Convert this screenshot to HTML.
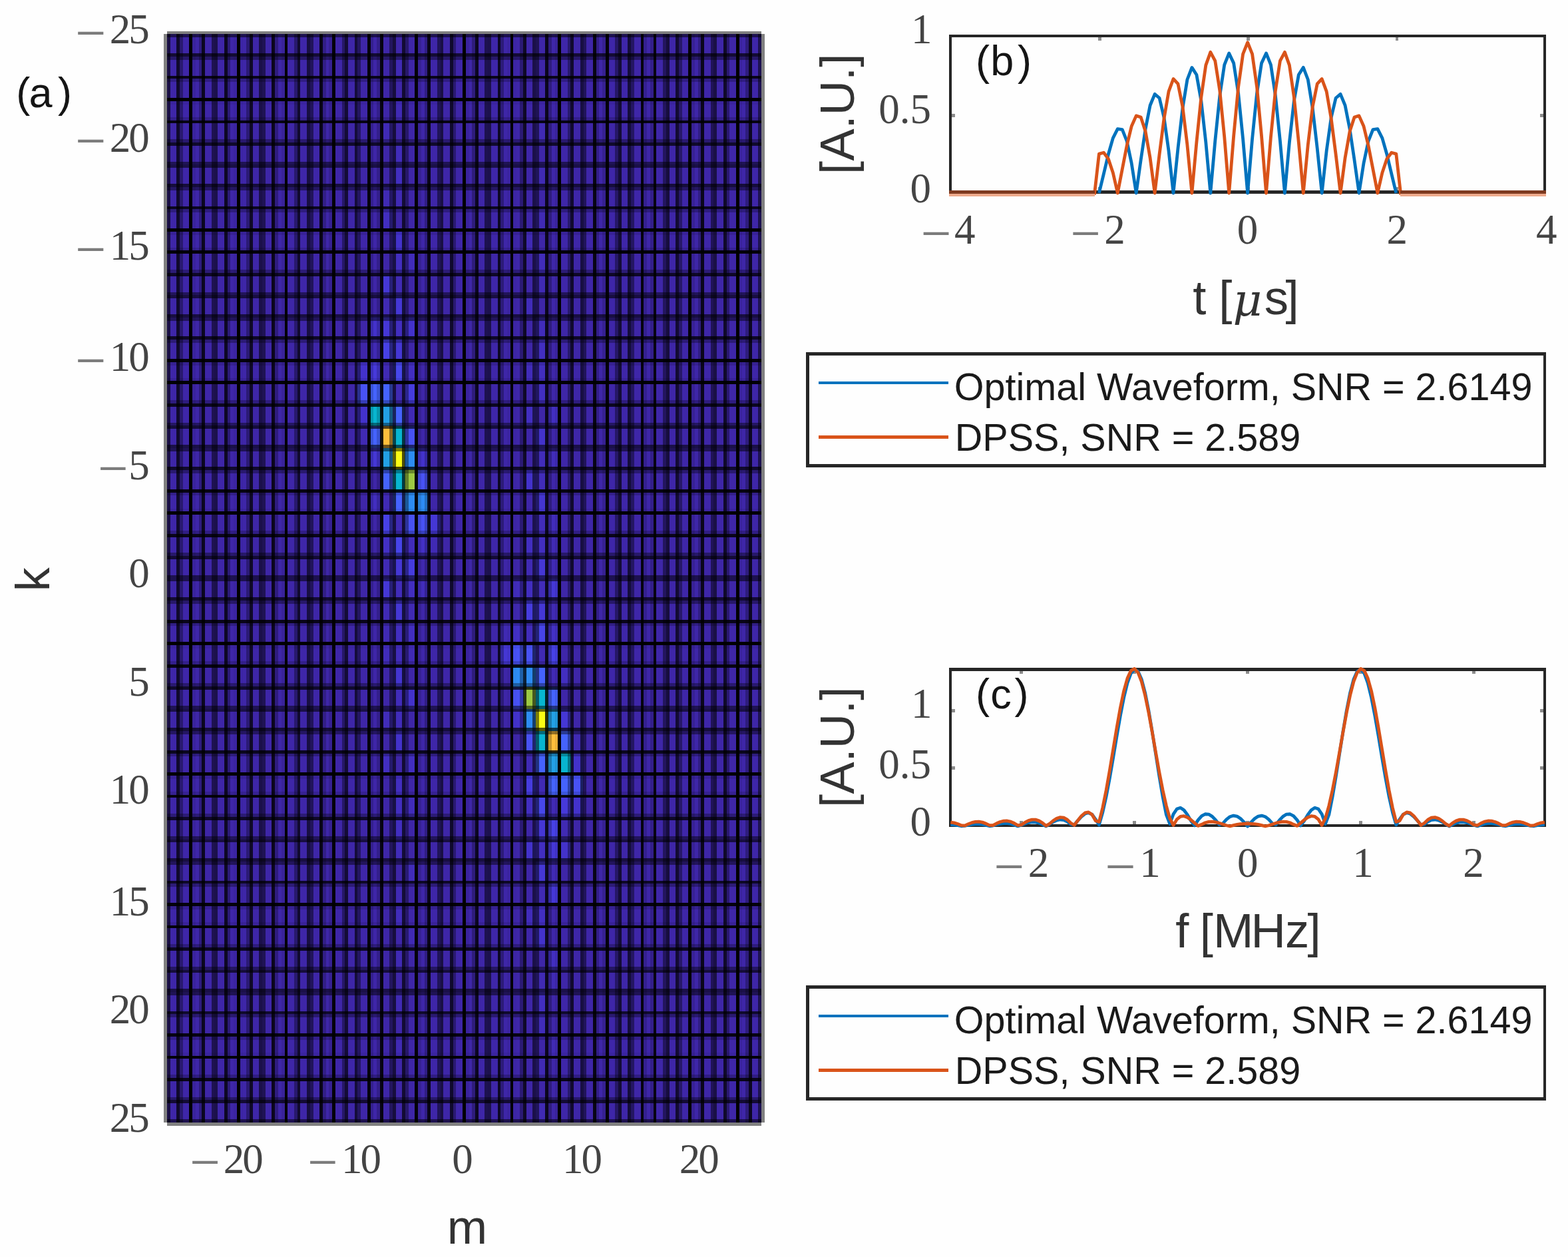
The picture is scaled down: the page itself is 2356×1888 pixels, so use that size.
<!DOCTYPE html>
<html lang="en"><head><meta charset="utf-8"><title>Figure</title>
<style>html,body{margin:0;padding:0;background:#fff}svg{display:block}.tk{font-family:"Liberation Serif","DejaVu Serif",serif;font-size:63px;fill:#444444}.lb{font-family:"Liberation Sans","DejaVu Sans",sans-serif;font-size:72.5px;fill:#333}.pl{font-family:"Liberation Sans","DejaVu Sans",sans-serif;font-size:63px;fill:#151515}.lg{font-family:"Liberation Sans","DejaVu Sans",sans-serif;font-size:57.5px;fill:#1a1a1a}</style></head><body>
<svg width="2356" height="1888" viewBox="0 0 2356 1888">
<rect width="2356" height="1888" fill="#fefefe"/>
<g shape-rendering="crispEdges">
<rect x="250.78" y="51.48" width="893.3" height="1634.42" fill="#3e26a8"/>
<rect x="536.84" y="541.8" width="17.86" height="32.69" fill="#4332cb"/>
<rect x="536.84" y="574.49" width="17.86" height="32.69" fill="#4852f4"/>
<rect x="536.84" y="607.18" width="17.86" height="32.69" fill="#4332cb"/>
<rect x="536.84" y="639.87" width="17.86" height="32.69" fill="#402ab4"/>
<rect x="554.7" y="476.43" width="17.86" height="32.69" fill="#4332cb"/>
<rect x="554.7" y="509.12" width="17.86" height="32.69" fill="#402ab4"/>
<rect x="554.7" y="541.8" width="17.86" height="32.69" fill="#4639da"/>
<rect x="554.7" y="574.49" width="17.86" height="32.69" fill="#4563fd"/>
<rect x="554.7" y="607.18" width="17.86" height="32.69" fill="#08b5d0"/>
<rect x="554.7" y="639.87" width="17.86" height="32.69" fill="#4563fd"/>
<rect x="554.7" y="672.56" width="17.86" height="32.69" fill="#4537d5"/>
<rect x="554.7" y="737.93" width="17.86" height="32.69" fill="#422ec0"/>
<rect x="572.57" y="182.23" width="17.86" height="32.69" fill="#402ab4"/>
<rect x="572.57" y="280.3" width="17.86" height="32.69" fill="#402ab4"/>
<rect x="572.57" y="312.99" width="17.86" height="32.69" fill="#422ec0"/>
<rect x="572.57" y="411.05" width="17.86" height="32.69" fill="#4537d5"/>
<rect x="572.57" y="443.74" width="17.86" height="32.69" fill="#402ab4"/>
<rect x="572.57" y="476.43" width="17.86" height="32.69" fill="#4537d5"/>
<rect x="572.57" y="509.12" width="17.86" height="32.69" fill="#4741e5"/>
<rect x="572.57" y="541.8" width="17.86" height="32.69" fill="#402ab4"/>
<rect x="572.57" y="574.49" width="17.86" height="32.69" fill="#4563fd"/>
<rect x="572.57" y="607.18" width="17.86" height="32.69" fill="#23a0e5"/>
<rect x="572.57" y="639.87" width="17.86" height="32.69" fill="#febe3c"/>
<rect x="572.57" y="672.56" width="17.86" height="32.69" fill="#23a0e5"/>
<rect x="572.57" y="705.25" width="17.86" height="32.69" fill="#4563fd"/>
<rect x="572.57" y="737.93" width="17.86" height="32.69" fill="#402ab4"/>
<rect x="572.57" y="770.62" width="17.86" height="32.69" fill="#4741e5"/>
<rect x="572.57" y="803.31" width="17.86" height="32.69" fill="#4330c5"/>
<rect x="572.57" y="836" width="17.86" height="32.69" fill="#402ab4"/>
<rect x="572.57" y="868.69" width="17.86" height="32.69" fill="#4537d5"/>
<rect x="572.57" y="901.38" width="17.86" height="32.69" fill="#402ab4"/>
<rect x="572.57" y="934.06" width="17.86" height="32.69" fill="#402ab4"/>
<rect x="572.57" y="966.75" width="17.86" height="32.69" fill="#412cba"/>
<rect x="572.57" y="1064.82" width="17.86" height="32.69" fill="#412cba"/>
<rect x="572.57" y="1130.19" width="17.86" height="32.69" fill="#422ec0"/>
<rect x="590.43" y="84.17" width="17.86" height="32.69" fill="#402ab4"/>
<rect x="590.43" y="149.54" width="17.86" height="32.69" fill="#402ab4"/>
<rect x="590.43" y="214.92" width="17.86" height="32.69" fill="#412cba"/>
<rect x="590.43" y="247.61" width="17.86" height="32.69" fill="#422ec0"/>
<rect x="590.43" y="280.3" width="17.86" height="32.69" fill="#402ab4"/>
<rect x="590.43" y="345.67" width="17.86" height="32.69" fill="#4332cb"/>
<rect x="590.43" y="378.36" width="17.86" height="32.69" fill="#422ec0"/>
<rect x="590.43" y="411.05" width="17.86" height="32.69" fill="#402ab4"/>
<rect x="590.43" y="443.74" width="17.86" height="32.69" fill="#4537d5"/>
<rect x="590.43" y="476.43" width="17.86" height="32.69" fill="#422ec0"/>
<rect x="590.43" y="509.12" width="17.86" height="32.69" fill="#4537d5"/>
<rect x="590.43" y="541.8" width="17.86" height="32.69" fill="#4747eb"/>
<rect x="590.43" y="574.49" width="17.86" height="32.69" fill="#402ab4"/>
<rect x="590.43" y="607.18" width="17.86" height="32.69" fill="#4563fd"/>
<rect x="590.43" y="639.87" width="17.86" height="32.69" fill="#08b5d0"/>
<rect x="590.43" y="672.56" width="17.86" height="32.69" fill="#f9fb15"/>
<rect x="590.43" y="705.25" width="17.86" height="32.69" fill="#08b5d0"/>
<rect x="590.43" y="737.93" width="17.86" height="32.69" fill="#4563fd"/>
<rect x="590.43" y="770.62" width="17.86" height="32.69" fill="#402ab4"/>
<rect x="590.43" y="803.31" width="17.86" height="32.69" fill="#4744e8"/>
<rect x="590.43" y="836" width="17.86" height="32.69" fill="#4537d5"/>
<rect x="590.43" y="868.69" width="17.86" height="32.69" fill="#412cba"/>
<rect x="590.43" y="901.38" width="17.86" height="32.69" fill="#4537d5"/>
<rect x="590.43" y="934.06" width="17.86" height="32.69" fill="#422ec0"/>
<rect x="590.43" y="966.75" width="17.86" height="32.69" fill="#412cba"/>
<rect x="590.43" y="999.44" width="17.86" height="32.69" fill="#4435d0"/>
<rect x="590.43" y="1032.13" width="17.86" height="32.69" fill="#412cba"/>
<rect x="590.43" y="1064.82" width="17.86" height="32.69" fill="#412cba"/>
<rect x="590.43" y="1097.51" width="17.86" height="32.69" fill="#4332cb"/>
<rect x="590.43" y="1162.88" width="17.86" height="32.69" fill="#422ec0"/>
<rect x="590.43" y="1195.57" width="17.86" height="32.69" fill="#422ec0"/>
<rect x="590.43" y="1228.26" width="17.86" height="32.69" fill="#422ec0"/>
<rect x="590.43" y="1260.95" width="17.86" height="32.69" fill="#412cba"/>
<rect x="590.43" y="1326.33" width="17.86" height="32.69" fill="#402ab4"/>
<rect x="590.43" y="1359.01" width="17.86" height="32.69" fill="#412cba"/>
<rect x="590.43" y="1424.39" width="17.86" height="32.69" fill="#402ab4"/>
<rect x="590.43" y="1489.77" width="17.86" height="32.69" fill="#402ab4"/>
<rect x="590.43" y="1555.14" width="17.86" height="32.69" fill="#402ab4"/>
<rect x="608.29" y="378.36" width="17.86" height="32.69" fill="#412cba"/>
<rect x="608.29" y="476.43" width="17.86" height="32.69" fill="#4332cb"/>
<rect x="608.29" y="541.8" width="17.86" height="32.69" fill="#422ec0"/>
<rect x="608.29" y="574.49" width="17.86" height="32.69" fill="#463cde"/>
<rect x="608.29" y="607.18" width="17.86" height="32.69" fill="#402ab4"/>
<rect x="608.29" y="639.87" width="17.86" height="32.69" fill="#4852f4"/>
<rect x="608.29" y="672.56" width="17.86" height="32.69" fill="#2d8cf3"/>
<rect x="608.29" y="705.25" width="17.86" height="32.69" fill="#9dc943"/>
<rect x="608.29" y="737.93" width="17.86" height="32.69" fill="#2d8cf3"/>
<rect x="608.29" y="770.62" width="17.86" height="32.69" fill="#4852f4"/>
<rect x="608.29" y="803.31" width="17.86" height="32.69" fill="#412cba"/>
<rect x="608.29" y="836" width="17.86" height="32.69" fill="#463cde"/>
<rect x="608.29" y="868.69" width="17.86" height="32.69" fill="#422ec0"/>
<rect x="608.29" y="901.38" width="17.86" height="32.69" fill="#402ab4"/>
<rect x="608.29" y="934.06" width="17.86" height="32.69" fill="#422ec0"/>
<rect x="608.29" y="966.75" width="17.86" height="32.69" fill="#402ab4"/>
<rect x="608.29" y="1032.13" width="17.86" height="32.69" fill="#4332cb"/>
<rect x="608.29" y="1130.19" width="17.86" height="32.69" fill="#422ec0"/>
<rect x="608.29" y="1195.57" width="17.86" height="32.69" fill="#412cba"/>
<rect x="608.29" y="1293.64" width="17.86" height="32.69" fill="#412cba"/>
<rect x="608.29" y="1391.7" width="17.86" height="32.69" fill="#402ab4"/>
<rect x="626.15" y="672.56" width="17.86" height="32.69" fill="#4332cb"/>
<rect x="626.15" y="705.25" width="17.86" height="32.69" fill="#4852f4"/>
<rect x="626.15" y="737.93" width="17.86" height="32.69" fill="#2d8cf3"/>
<rect x="626.15" y="770.62" width="17.86" height="32.69" fill="#4852f4"/>
<rect x="626.15" y="803.31" width="17.86" height="32.69" fill="#4330c5"/>
<rect x="626.15" y="836" width="17.86" height="32.69" fill="#3f28ae"/>
<rect x="626.15" y="868.69" width="17.86" height="32.69" fill="#412cba"/>
<rect x="644.01" y="770.62" width="17.86" height="32.69" fill="#4537d5"/>
<rect x="644.01" y="803.31" width="17.86" height="32.69" fill="#402ab4"/>
<rect x="751.18" y="934.06" width="17.86" height="32.69" fill="#402ab4"/>
<rect x="751.18" y="966.75" width="17.86" height="32.69" fill="#4537d5"/>
<rect x="769.04" y="868.69" width="17.86" height="32.69" fill="#412cba"/>
<rect x="769.04" y="901.38" width="17.86" height="32.69" fill="#3f28ae"/>
<rect x="769.04" y="934.06" width="17.86" height="32.69" fill="#4330c5"/>
<rect x="769.04" y="966.75" width="17.86" height="32.69" fill="#4852f4"/>
<rect x="769.04" y="999.44" width="17.86" height="32.69" fill="#2d8cf3"/>
<rect x="769.04" y="1032.13" width="17.86" height="32.69" fill="#4852f4"/>
<rect x="769.04" y="1064.82" width="17.86" height="32.69" fill="#4332cb"/>
<rect x="786.9" y="345.67" width="17.86" height="32.69" fill="#402ab4"/>
<rect x="786.9" y="443.74" width="17.86" height="32.69" fill="#412cba"/>
<rect x="786.9" y="541.8" width="17.86" height="32.69" fill="#412cba"/>
<rect x="786.9" y="607.18" width="17.86" height="32.69" fill="#422ec0"/>
<rect x="786.9" y="705.25" width="17.86" height="32.69" fill="#4332cb"/>
<rect x="786.9" y="770.62" width="17.86" height="32.69" fill="#402ab4"/>
<rect x="786.9" y="803.31" width="17.86" height="32.69" fill="#422ec0"/>
<rect x="786.9" y="836" width="17.86" height="32.69" fill="#402ab4"/>
<rect x="786.9" y="868.69" width="17.86" height="32.69" fill="#422ec0"/>
<rect x="786.9" y="901.38" width="17.86" height="32.69" fill="#463cde"/>
<rect x="786.9" y="934.06" width="17.86" height="32.69" fill="#412cba"/>
<rect x="786.9" y="966.75" width="17.86" height="32.69" fill="#4852f4"/>
<rect x="786.9" y="999.44" width="17.86" height="32.69" fill="#2d8cf3"/>
<rect x="786.9" y="1032.13" width="17.86" height="32.69" fill="#9dc943"/>
<rect x="786.9" y="1064.82" width="17.86" height="32.69" fill="#2d8cf3"/>
<rect x="786.9" y="1097.51" width="17.86" height="32.69" fill="#4852f4"/>
<rect x="786.9" y="1130.19" width="17.86" height="32.69" fill="#402ab4"/>
<rect x="786.9" y="1162.88" width="17.86" height="32.69" fill="#463cde"/>
<rect x="786.9" y="1195.57" width="17.86" height="32.69" fill="#422ec0"/>
<rect x="786.9" y="1260.95" width="17.86" height="32.69" fill="#4332cb"/>
<rect x="786.9" y="1359.01" width="17.86" height="32.69" fill="#412cba"/>
<rect x="804.76" y="182.23" width="17.86" height="32.69" fill="#402ab4"/>
<rect x="804.76" y="247.61" width="17.86" height="32.69" fill="#402ab4"/>
<rect x="804.76" y="312.99" width="17.86" height="32.69" fill="#402ab4"/>
<rect x="804.76" y="378.36" width="17.86" height="32.69" fill="#412cba"/>
<rect x="804.76" y="411.05" width="17.86" height="32.69" fill="#402ab4"/>
<rect x="804.76" y="476.43" width="17.86" height="32.69" fill="#412cba"/>
<rect x="804.76" y="509.12" width="17.86" height="32.69" fill="#422ec0"/>
<rect x="804.76" y="541.8" width="17.86" height="32.69" fill="#422ec0"/>
<rect x="804.76" y="574.49" width="17.86" height="32.69" fill="#422ec0"/>
<rect x="804.76" y="639.87" width="17.86" height="32.69" fill="#4332cb"/>
<rect x="804.76" y="672.56" width="17.86" height="32.69" fill="#412cba"/>
<rect x="804.76" y="705.25" width="17.86" height="32.69" fill="#412cba"/>
<rect x="804.76" y="737.93" width="17.86" height="32.69" fill="#4435d0"/>
<rect x="804.76" y="770.62" width="17.86" height="32.69" fill="#412cba"/>
<rect x="804.76" y="803.31" width="17.86" height="32.69" fill="#422ec0"/>
<rect x="804.76" y="836" width="17.86" height="32.69" fill="#4537d5"/>
<rect x="804.76" y="868.69" width="17.86" height="32.69" fill="#412cba"/>
<rect x="804.76" y="901.38" width="17.86" height="32.69" fill="#4537d5"/>
<rect x="804.76" y="934.06" width="17.86" height="32.69" fill="#4744e8"/>
<rect x="804.76" y="966.75" width="17.86" height="32.69" fill="#402ab4"/>
<rect x="804.76" y="999.44" width="17.86" height="32.69" fill="#4563fd"/>
<rect x="804.76" y="1032.13" width="17.86" height="32.69" fill="#08b5d0"/>
<rect x="804.76" y="1064.82" width="17.86" height="32.69" fill="#f9fb15"/>
<rect x="804.76" y="1097.51" width="17.86" height="32.69" fill="#08b5d0"/>
<rect x="804.76" y="1130.19" width="17.86" height="32.69" fill="#4563fd"/>
<rect x="804.76" y="1162.88" width="17.86" height="32.69" fill="#402ab4"/>
<rect x="804.76" y="1195.57" width="17.86" height="32.69" fill="#4747eb"/>
<rect x="804.76" y="1228.26" width="17.86" height="32.69" fill="#4537d5"/>
<rect x="804.76" y="1260.95" width="17.86" height="32.69" fill="#422ec0"/>
<rect x="804.76" y="1293.64" width="17.86" height="32.69" fill="#4537d5"/>
<rect x="804.76" y="1326.33" width="17.86" height="32.69" fill="#402ab4"/>
<rect x="804.76" y="1359.01" width="17.86" height="32.69" fill="#422ec0"/>
<rect x="804.76" y="1391.7" width="17.86" height="32.69" fill="#4332cb"/>
<rect x="804.76" y="1457.08" width="17.86" height="32.69" fill="#402ab4"/>
<rect x="804.76" y="1489.77" width="17.86" height="32.69" fill="#422ec0"/>
<rect x="804.76" y="1522.46" width="17.86" height="32.69" fill="#412cba"/>
<rect x="804.76" y="1587.83" width="17.86" height="32.69" fill="#402ab4"/>
<rect x="804.76" y="1653.21" width="17.86" height="32.69" fill="#402ab4"/>
<rect x="822.62" y="607.18" width="17.86" height="32.69" fill="#422ec0"/>
<rect x="822.62" y="672.56" width="17.86" height="32.69" fill="#412cba"/>
<rect x="822.62" y="770.62" width="17.86" height="32.69" fill="#412cba"/>
<rect x="822.62" y="803.31" width="17.86" height="32.69" fill="#402ab4"/>
<rect x="822.62" y="836" width="17.86" height="32.69" fill="#402ab4"/>
<rect x="822.62" y="868.69" width="17.86" height="32.69" fill="#4537d5"/>
<rect x="822.62" y="901.38" width="17.86" height="32.69" fill="#402ab4"/>
<rect x="822.62" y="934.06" width="17.86" height="32.69" fill="#4330c5"/>
<rect x="822.62" y="966.75" width="17.86" height="32.69" fill="#4741e5"/>
<rect x="822.62" y="999.44" width="17.86" height="32.69" fill="#402ab4"/>
<rect x="822.62" y="1032.13" width="17.86" height="32.69" fill="#4563fd"/>
<rect x="822.62" y="1064.82" width="17.86" height="32.69" fill="#23a0e5"/>
<rect x="822.62" y="1097.51" width="17.86" height="32.69" fill="#febe3c"/>
<rect x="822.62" y="1130.19" width="17.86" height="32.69" fill="#23a0e5"/>
<rect x="822.62" y="1162.88" width="17.86" height="32.69" fill="#4563fd"/>
<rect x="822.62" y="1195.57" width="17.86" height="32.69" fill="#402ab4"/>
<rect x="822.62" y="1228.26" width="17.86" height="32.69" fill="#4741e5"/>
<rect x="822.62" y="1260.95" width="17.86" height="32.69" fill="#4537d5"/>
<rect x="822.62" y="1293.64" width="17.86" height="32.69" fill="#402ab4"/>
<rect x="822.62" y="1326.33" width="17.86" height="32.69" fill="#4537d5"/>
<rect x="822.62" y="1424.39" width="17.86" height="32.69" fill="#422ec0"/>
<rect x="822.62" y="1457.08" width="17.86" height="32.69" fill="#402ab4"/>
<rect x="822.62" y="1555.14" width="17.86" height="32.69" fill="#402ab4"/>
<rect x="840.48" y="999.44" width="17.86" height="32.69" fill="#422ec0"/>
<rect x="840.48" y="1064.82" width="17.86" height="32.69" fill="#4537d5"/>
<rect x="840.48" y="1097.51" width="17.86" height="32.69" fill="#4563fd"/>
<rect x="840.48" y="1130.19" width="17.86" height="32.69" fill="#08b5d0"/>
<rect x="840.48" y="1162.88" width="17.86" height="32.69" fill="#4563fd"/>
<rect x="840.48" y="1195.57" width="17.86" height="32.69" fill="#4639da"/>
<rect x="840.48" y="1228.26" width="17.86" height="32.69" fill="#402ab4"/>
<rect x="840.48" y="1260.95" width="17.86" height="32.69" fill="#4332cb"/>
<rect x="858.34" y="1097.51" width="17.86" height="32.69" fill="#402ab4"/>
<rect x="858.34" y="1130.19" width="17.86" height="32.69" fill="#4332cb"/>
<rect x="858.34" y="1162.88" width="17.86" height="32.69" fill="#4852f4"/>
<rect x="858.34" y="1195.57" width="17.86" height="32.69" fill="#4332cb"/>
<rect x="250.78" y="51.48" width="4.78" height="1634.42" fill="#000" fill-opacity="0.59"/>
<rect x="265.11" y="51.48" width="4.78" height="1634.42" fill="#000" fill-opacity="0.73"/>
<rect x="269.88" y="51.48" width="4.78" height="1634.42" fill="#000" fill-opacity="0.33"/>
<rect x="284.22" y="51.48" width="4.78" height="1634.42" fill="#000" fill-opacity="0.99"/>
<rect x="288.99" y="51.48" width="4.78" height="1634.42" fill="#000" fill-opacity="0.07"/>
<rect x="298.55" y="51.48" width="4.78" height="1634.42" fill="#000" fill-opacity="0.25"/>
<rect x="303.32" y="51.48" width="4.78" height="1634.42" fill="#000" fill-opacity="0.81"/>
<rect x="317.65" y="51.48" width="4.78" height="1634.42" fill="#000" fill-opacity="0.51"/>
<rect x="322.43" y="51.48" width="4.78" height="1634.42" fill="#000" fill-opacity="0.55"/>
<rect x="336.76" y="51.48" width="4.78" height="1634.42" fill="#000" fill-opacity="0.78"/>
<rect x="341.54" y="51.48" width="4.78" height="1634.42" fill="#000" fill-opacity="0.28"/>
<rect x="351.09" y="51.48" width="4.78" height="1634.42" fill="#000" fill-opacity="0.04"/>
<rect x="355.87" y="51.48" width="4.78" height="1634.42" fill="#000" fill-opacity="1"/>
<rect x="360.65" y="51.48" width="4.78" height="1634.42" fill="#000" fill-opacity="0.02"/>
<rect x="370.2" y="51.48" width="4.78" height="1634.42" fill="#000" fill-opacity="0.3"/>
<rect x="374.98" y="51.48" width="4.78" height="1634.42" fill="#000" fill-opacity="0.76"/>
<rect x="389.31" y="51.48" width="4.78" height="1634.42" fill="#000" fill-opacity="0.56"/>
<rect x="394.09" y="51.48" width="4.78" height="1634.42" fill="#000" fill-opacity="0.5"/>
<rect x="408.42" y="51.48" width="4.78" height="1634.42" fill="#000" fill-opacity="0.82"/>
<rect x="413.19" y="51.48" width="4.78" height="1634.42" fill="#000" fill-opacity="0.24"/>
<rect x="422.75" y="51.48" width="4.78" height="1634.42" fill="#000" fill-opacity="0.08"/>
<rect x="427.53" y="51.48" width="4.78" height="1634.42" fill="#000" fill-opacity="0.98"/>
<rect x="441.86" y="51.48" width="4.78" height="1634.42" fill="#000" fill-opacity="0.34"/>
<rect x="446.63" y="51.48" width="4.78" height="1634.42" fill="#000" fill-opacity="0.72"/>
<rect x="460.97" y="51.48" width="4.78" height="1634.42" fill="#000" fill-opacity="0.6"/>
<rect x="465.74" y="51.48" width="4.78" height="1634.42" fill="#000" fill-opacity="0.46"/>
<rect x="480.07" y="51.48" width="4.78" height="1634.42" fill="#000" fill-opacity="0.86"/>
<rect x="484.85" y="51.48" width="4.78" height="1634.42" fill="#000" fill-opacity="0.2"/>
<rect x="494.4" y="51.48" width="4.78" height="1634.42" fill="#000" fill-opacity="0.12"/>
<rect x="499.18" y="51.48" width="4.78" height="1634.42" fill="#000" fill-opacity="0.94"/>
<rect x="513.51" y="51.48" width="4.78" height="1634.42" fill="#000" fill-opacity="0.38"/>
<rect x="518.29" y="51.48" width="4.78" height="1634.42" fill="#000" fill-opacity="0.68"/>
<rect x="532.62" y="51.48" width="4.78" height="1634.42" fill="#000" fill-opacity="0.65"/>
<rect x="537.4" y="51.48" width="4.78" height="1634.42" fill="#000" fill-opacity="0.41"/>
<rect x="551.73" y="51.48" width="4.78" height="1634.42" fill="#000" fill-opacity="0.91"/>
<rect x="556.5" y="51.48" width="4.78" height="1634.42" fill="#000" fill-opacity="0.15"/>
<rect x="566.06" y="51.48" width="4.78" height="1634.42" fill="#000" fill-opacity="0.17"/>
<rect x="570.84" y="51.48" width="4.78" height="1634.42" fill="#000" fill-opacity="0.89"/>
<rect x="585.17" y="51.48" width="4.78" height="1634.42" fill="#000" fill-opacity="0.43"/>
<rect x="589.94" y="51.48" width="4.78" height="1634.42" fill="#000" fill-opacity="0.63"/>
<rect x="604.28" y="51.48" width="4.78" height="1634.42" fill="#000" fill-opacity="0.69"/>
<rect x="609.05" y="51.48" width="4.78" height="1634.42" fill="#000" fill-opacity="0.37"/>
<rect x="623.38" y="51.48" width="4.78" height="1634.42" fill="#000" fill-opacity="0.95"/>
<rect x="628.16" y="51.48" width="4.78" height="1634.42" fill="#000" fill-opacity="0.11"/>
<rect x="637.71" y="51.48" width="4.78" height="1634.42" fill="#000" fill-opacity="0.21"/>
<rect x="642.49" y="51.48" width="4.78" height="1634.42" fill="#000" fill-opacity="0.85"/>
<rect x="656.82" y="51.48" width="4.78" height="1634.42" fill="#000" fill-opacity="0.47"/>
<rect x="661.6" y="51.48" width="4.78" height="1634.42" fill="#000" fill-opacity="0.59"/>
<rect x="675.93" y="51.48" width="4.78" height="1634.42" fill="#000" fill-opacity="0.73"/>
<rect x="680.71" y="51.48" width="4.78" height="1634.42" fill="#000" fill-opacity="0.33"/>
<rect x="695.04" y="51.48" width="4.78" height="1634.42" fill="#000" fill-opacity="1"/>
<rect x="699.82" y="51.48" width="4.78" height="1634.42" fill="#000" fill-opacity="0.06"/>
<rect x="709.37" y="51.48" width="4.78" height="1634.42" fill="#000" fill-opacity="0.26"/>
<rect x="714.15" y="51.48" width="4.78" height="1634.42" fill="#000" fill-opacity="0.8"/>
<rect x="728.48" y="51.48" width="4.78" height="1634.42" fill="#000" fill-opacity="0.52"/>
<rect x="733.25" y="51.48" width="4.78" height="1634.42" fill="#000" fill-opacity="0.54"/>
<rect x="747.59" y="51.48" width="4.78" height="1634.42" fill="#000" fill-opacity="0.78"/>
<rect x="752.36" y="51.48" width="4.78" height="1634.42" fill="#000" fill-opacity="0.28"/>
<rect x="761.92" y="51.48" width="4.78" height="1634.42" fill="#000" fill-opacity="0.04"/>
<rect x="766.69" y="51.48" width="4.78" height="1634.42" fill="#000" fill-opacity="1"/>
<rect x="771.47" y="51.48" width="4.78" height="1634.42" fill="#000" fill-opacity="0.02"/>
<rect x="781.02" y="51.48" width="4.78" height="1634.42" fill="#000" fill-opacity="0.3"/>
<rect x="785.8" y="51.48" width="4.78" height="1634.42" fill="#000" fill-opacity="0.76"/>
<rect x="800.13" y="51.48" width="4.78" height="1634.42" fill="#000" fill-opacity="0.56"/>
<rect x="804.91" y="51.48" width="4.78" height="1634.42" fill="#000" fill-opacity="0.5"/>
<rect x="819.24" y="51.48" width="4.78" height="1634.42" fill="#000" fill-opacity="0.82"/>
<rect x="824.02" y="51.48" width="4.78" height="1634.42" fill="#000" fill-opacity="0.24"/>
<rect x="833.57" y="51.48" width="4.78" height="1634.42" fill="#000" fill-opacity="0.08"/>
<rect x="838.35" y="51.48" width="4.78" height="1634.42" fill="#000" fill-opacity="0.98"/>
<rect x="852.68" y="51.48" width="4.78" height="1634.42" fill="#000" fill-opacity="0.34"/>
<rect x="857.46" y="51.48" width="4.78" height="1634.42" fill="#000" fill-opacity="0.72"/>
<rect x="871.79" y="51.48" width="4.78" height="1634.42" fill="#000" fill-opacity="0.6"/>
<rect x="876.56" y="51.48" width="4.78" height="1634.42" fill="#000" fill-opacity="0.46"/>
<rect x="890.89" y="51.48" width="4.78" height="1634.42" fill="#000" fill-opacity="0.87"/>
<rect x="895.67" y="51.48" width="4.78" height="1634.42" fill="#000" fill-opacity="0.19"/>
<rect x="905.23" y="51.48" width="4.78" height="1634.42" fill="#000" fill-opacity="0.13"/>
<rect x="910" y="51.48" width="4.78" height="1634.42" fill="#000" fill-opacity="0.93"/>
<rect x="924.33" y="51.48" width="4.78" height="1634.42" fill="#000" fill-opacity="0.39"/>
<rect x="929.11" y="51.48" width="4.78" height="1634.42" fill="#000" fill-opacity="0.67"/>
<rect x="943.44" y="51.48" width="4.78" height="1634.42" fill="#000" fill-opacity="0.65"/>
<rect x="948.22" y="51.48" width="4.78" height="1634.42" fill="#000" fill-opacity="0.41"/>
<rect x="962.55" y="51.48" width="4.78" height="1634.42" fill="#000" fill-opacity="0.91"/>
<rect x="967.33" y="51.48" width="4.78" height="1634.42" fill="#000" fill-opacity="0.15"/>
<rect x="976.88" y="51.48" width="4.78" height="1634.42" fill="#000" fill-opacity="0.17"/>
<rect x="981.66" y="51.48" width="4.78" height="1634.42" fill="#000" fill-opacity="0.89"/>
<rect x="995.99" y="51.48" width="4.78" height="1634.42" fill="#000" fill-opacity="0.43"/>
<rect x="1000.77" y="51.48" width="4.78" height="1634.42" fill="#000" fill-opacity="0.63"/>
<rect x="1015.1" y="51.48" width="4.78" height="1634.42" fill="#000" fill-opacity="0.69"/>
<rect x="1019.87" y="51.48" width="4.78" height="1634.42" fill="#000" fill-opacity="0.37"/>
<rect x="1034.2" y="51.48" width="4.78" height="1634.42" fill="#000" fill-opacity="0.95"/>
<rect x="1038.98" y="51.48" width="4.78" height="1634.42" fill="#000" fill-opacity="0.11"/>
<rect x="1048.54" y="51.48" width="4.78" height="1634.42" fill="#000" fill-opacity="0.22"/>
<rect x="1053.31" y="51.48" width="4.78" height="1634.42" fill="#000" fill-opacity="0.84"/>
<rect x="1067.64" y="51.48" width="4.78" height="1634.42" fill="#000" fill-opacity="0.48"/>
<rect x="1072.42" y="51.48" width="4.78" height="1634.42" fill="#000" fill-opacity="0.58"/>
<rect x="1086.75" y="51.48" width="4.78" height="1634.42" fill="#000" fill-opacity="0.74"/>
<rect x="1091.53" y="51.48" width="4.78" height="1634.42" fill="#000" fill-opacity="0.32"/>
<rect x="1105.86" y="51.48" width="4.78" height="1634.42" fill="#000" fill-opacity="1"/>
<rect x="1110.64" y="51.48" width="4.78" height="1634.42" fill="#000" fill-opacity="0.06"/>
<rect x="1120.19" y="51.48" width="4.78" height="1634.42" fill="#000" fill-opacity="0.26"/>
<rect x="1124.97" y="51.48" width="4.78" height="1634.42" fill="#000" fill-opacity="0.8"/>
<rect x="1139.3" y="51.48" width="4.78" height="1634.42" fill="#000" fill-opacity="0.52"/>
<rect x="250.78" y="51.48" width="893.3" height="4.78" fill="#000" fill-opacity="0.53"/>
<rect x="250.78" y="80.15" width="893.3" height="4.78" fill="#000" fill-opacity="0.69"/>
<rect x="250.78" y="84.93" width="893.3" height="4.78" fill="#000" fill-opacity="0.37"/>
<rect x="250.78" y="113.61" width="893.3" height="4.78" fill="#000" fill-opacity="0.85"/>
<rect x="250.78" y="118.39" width="893.3" height="4.78" fill="#000" fill-opacity="0.21"/>
<rect x="250.78" y="147.06" width="893.3" height="4.78" fill="#000" fill-opacity="1"/>
<rect x="250.78" y="151.84" width="893.3" height="4.78" fill="#000" fill-opacity="0.05"/>
<rect x="250.78" y="175.73" width="893.3" height="4.78" fill="#000" fill-opacity="0.17"/>
<rect x="250.78" y="180.51" width="893.3" height="4.78" fill="#000" fill-opacity="0.89"/>
<rect x="250.78" y="209.19" width="893.3" height="4.78" fill="#000" fill-opacity="0.33"/>
<rect x="250.78" y="213.96" width="893.3" height="4.78" fill="#000" fill-opacity="0.73"/>
<rect x="250.78" y="242.64" width="893.3" height="4.78" fill="#000" fill-opacity="0.49"/>
<rect x="250.78" y="247.42" width="893.3" height="4.78" fill="#000" fill-opacity="0.57"/>
<rect x="250.78" y="276.09" width="893.3" height="4.78" fill="#000" fill-opacity="0.65"/>
<rect x="250.78" y="280.87" width="893.3" height="4.78" fill="#000" fill-opacity="0.41"/>
<rect x="250.78" y="309.54" width="893.3" height="4.78" fill="#000" fill-opacity="0.81"/>
<rect x="250.78" y="314.32" width="893.3" height="4.78" fill="#000" fill-opacity="0.25"/>
<rect x="250.78" y="343" width="893.3" height="4.78" fill="#000" fill-opacity="0.97"/>
<rect x="250.78" y="347.78" width="893.3" height="4.78" fill="#000" fill-opacity="0.09"/>
<rect x="250.78" y="371.67" width="893.3" height="4.78" fill="#000" fill-opacity="0.13"/>
<rect x="250.78" y="376.45" width="893.3" height="4.78" fill="#000" fill-opacity="0.93"/>
<rect x="250.78" y="405.12" width="893.3" height="4.78" fill="#000" fill-opacity="0.29"/>
<rect x="250.78" y="409.9" width="893.3" height="4.78" fill="#000" fill-opacity="0.77"/>
<rect x="250.78" y="438.58" width="893.3" height="4.78" fill="#000" fill-opacity="0.45"/>
<rect x="250.78" y="443.36" width="893.3" height="4.78" fill="#000" fill-opacity="0.61"/>
<rect x="250.78" y="472.03" width="893.3" height="4.78" fill="#000" fill-opacity="0.61"/>
<rect x="250.78" y="476.81" width="893.3" height="4.78" fill="#000" fill-opacity="0.45"/>
<rect x="250.78" y="505.48" width="893.3" height="4.78" fill="#000" fill-opacity="0.77"/>
<rect x="250.78" y="510.26" width="893.3" height="4.78" fill="#000" fill-opacity="0.29"/>
<rect x="250.78" y="538.94" width="893.3" height="4.78" fill="#000" fill-opacity="0.93"/>
<rect x="250.78" y="543.72" width="893.3" height="4.78" fill="#000" fill-opacity="0.13"/>
<rect x="250.78" y="567.61" width="893.3" height="4.78" fill="#000" fill-opacity="0.09"/>
<rect x="250.78" y="572.39" width="893.3" height="4.78" fill="#000" fill-opacity="0.97"/>
<rect x="250.78" y="601.06" width="893.3" height="4.78" fill="#000" fill-opacity="0.25"/>
<rect x="250.78" y="605.84" width="893.3" height="4.78" fill="#000" fill-opacity="0.81"/>
<rect x="250.78" y="634.52" width="893.3" height="4.78" fill="#000" fill-opacity="0.41"/>
<rect x="250.78" y="639.3" width="893.3" height="4.78" fill="#000" fill-opacity="0.65"/>
<rect x="250.78" y="667.97" width="893.3" height="4.78" fill="#000" fill-opacity="0.57"/>
<rect x="250.78" y="672.75" width="893.3" height="4.78" fill="#000" fill-opacity="0.49"/>
<rect x="250.78" y="701.42" width="893.3" height="4.78" fill="#000" fill-opacity="0.73"/>
<rect x="250.78" y="706.2" width="893.3" height="4.78" fill="#000" fill-opacity="0.33"/>
<rect x="250.78" y="734.88" width="893.3" height="4.78" fill="#000" fill-opacity="0.89"/>
<rect x="250.78" y="739.66" width="893.3" height="4.78" fill="#000" fill-opacity="0.17"/>
<rect x="250.78" y="763.55" width="893.3" height="4.78" fill="#000" fill-opacity="0.05"/>
<rect x="250.78" y="768.33" width="893.3" height="4.78" fill="#000" fill-opacity="1"/>
<rect x="250.78" y="797" width="893.3" height="4.78" fill="#000" fill-opacity="0.21"/>
<rect x="250.78" y="801.78" width="893.3" height="4.78" fill="#000" fill-opacity="0.85"/>
<rect x="250.78" y="830.46" width="893.3" height="4.78" fill="#000" fill-opacity="0.37"/>
<rect x="250.78" y="835.24" width="893.3" height="4.78" fill="#000" fill-opacity="0.69"/>
<rect x="250.78" y="863.91" width="893.3" height="4.78" fill="#000" fill-opacity="0.53"/>
<rect x="250.78" y="868.69" width="893.3" height="4.78" fill="#000" fill-opacity="0.53"/>
<rect x="250.78" y="897.36" width="893.3" height="4.78" fill="#000" fill-opacity="0.69"/>
<rect x="250.78" y="902.14" width="893.3" height="4.78" fill="#000" fill-opacity="0.37"/>
<rect x="250.78" y="930.82" width="893.3" height="4.78" fill="#000" fill-opacity="0.85"/>
<rect x="250.78" y="935.59" width="893.3" height="4.78" fill="#000" fill-opacity="0.21"/>
<rect x="250.78" y="964.27" width="893.3" height="4.78" fill="#000" fill-opacity="1"/>
<rect x="250.78" y="969.05" width="893.3" height="4.78" fill="#000" fill-opacity="0.05"/>
<rect x="250.78" y="992.94" width="893.3" height="4.78" fill="#000" fill-opacity="0.17"/>
<rect x="250.78" y="997.72" width="893.3" height="4.78" fill="#000" fill-opacity="0.89"/>
<rect x="250.78" y="1026.39" width="893.3" height="4.78" fill="#000" fill-opacity="0.33"/>
<rect x="250.78" y="1031.17" width="893.3" height="4.78" fill="#000" fill-opacity="0.73"/>
<rect x="250.78" y="1059.85" width="893.3" height="4.78" fill="#000" fill-opacity="0.49"/>
<rect x="250.78" y="1064.63" width="893.3" height="4.78" fill="#000" fill-opacity="0.57"/>
<rect x="250.78" y="1093.3" width="893.3" height="4.78" fill="#000" fill-opacity="0.65"/>
<rect x="250.78" y="1098.08" width="893.3" height="4.78" fill="#000" fill-opacity="0.41"/>
<rect x="250.78" y="1126.75" width="893.3" height="4.78" fill="#000" fill-opacity="0.81"/>
<rect x="250.78" y="1131.53" width="893.3" height="4.78" fill="#000" fill-opacity="0.25"/>
<rect x="250.78" y="1160.21" width="893.3" height="4.78" fill="#000" fill-opacity="0.97"/>
<rect x="250.78" y="1164.99" width="893.3" height="4.78" fill="#000" fill-opacity="0.09"/>
<rect x="250.78" y="1188.88" width="893.3" height="4.78" fill="#000" fill-opacity="0.13"/>
<rect x="250.78" y="1193.66" width="893.3" height="4.78" fill="#000" fill-opacity="0.93"/>
<rect x="250.78" y="1222.33" width="893.3" height="4.78" fill="#000" fill-opacity="0.29"/>
<rect x="250.78" y="1227.11" width="893.3" height="4.78" fill="#000" fill-opacity="0.77"/>
<rect x="250.78" y="1255.79" width="893.3" height="4.78" fill="#000" fill-opacity="0.45"/>
<rect x="250.78" y="1260.57" width="893.3" height="4.78" fill="#000" fill-opacity="0.61"/>
<rect x="250.78" y="1289.24" width="893.3" height="4.78" fill="#000" fill-opacity="0.61"/>
<rect x="250.78" y="1294.02" width="893.3" height="4.78" fill="#000" fill-opacity="0.45"/>
<rect x="250.78" y="1322.69" width="893.3" height="4.78" fill="#000" fill-opacity="0.77"/>
<rect x="250.78" y="1327.47" width="893.3" height="4.78" fill="#000" fill-opacity="0.29"/>
<rect x="250.78" y="1356.15" width="893.3" height="4.78" fill="#000" fill-opacity="0.93"/>
<rect x="250.78" y="1360.92" width="893.3" height="4.78" fill="#000" fill-opacity="0.13"/>
<rect x="250.78" y="1384.82" width="893.3" height="4.78" fill="#000" fill-opacity="0.09"/>
<rect x="250.78" y="1389.6" width="893.3" height="4.78" fill="#000" fill-opacity="0.97"/>
<rect x="250.78" y="1418.27" width="893.3" height="4.78" fill="#000" fill-opacity="0.25"/>
<rect x="250.78" y="1423.05" width="893.3" height="4.78" fill="#000" fill-opacity="0.81"/>
<rect x="250.78" y="1451.73" width="893.3" height="4.78" fill="#000" fill-opacity="0.41"/>
<rect x="250.78" y="1456.51" width="893.3" height="4.78" fill="#000" fill-opacity="0.65"/>
<rect x="250.78" y="1485.18" width="893.3" height="4.78" fill="#000" fill-opacity="0.57"/>
<rect x="250.78" y="1489.96" width="893.3" height="4.78" fill="#000" fill-opacity="0.49"/>
<rect x="250.78" y="1518.63" width="893.3" height="4.78" fill="#000" fill-opacity="0.73"/>
<rect x="250.78" y="1523.41" width="893.3" height="4.78" fill="#000" fill-opacity="0.33"/>
<rect x="250.78" y="1552.09" width="893.3" height="4.78" fill="#000" fill-opacity="0.89"/>
<rect x="250.78" y="1556.86" width="893.3" height="4.78" fill="#000" fill-opacity="0.17"/>
<rect x="250.78" y="1580.76" width="893.3" height="4.78" fill="#000" fill-opacity="0.05"/>
<rect x="250.78" y="1585.54" width="893.3" height="4.78" fill="#000" fill-opacity="1"/>
<rect x="250.78" y="1614.21" width="893.3" height="4.78" fill="#000" fill-opacity="0.21"/>
<rect x="250.78" y="1618.99" width="893.3" height="4.78" fill="#000" fill-opacity="0.85"/>
<rect x="250.78" y="1647.66" width="893.3" height="4.78" fill="#000" fill-opacity="0.37"/>
<rect x="250.78" y="1652.44" width="893.3" height="4.78" fill="#000" fill-opacity="0.69"/>
<rect x="250.78" y="1681.12" width="893.3" height="4.78" fill="#000" fill-opacity="0.53"/>
<rect x="250.78" y="46.7" width="893.3" height="4.78" fill="#808080"/>
<rect x="250.78" y="1685.9" width="893.3" height="4.78" fill="#808080"/>
<rect x="246" y="51.48" width="4.78" height="1634.42" fill="#808080"/>
<rect x="1144.08" y="51.48" width="4.78" height="1634.42" fill="#808080"/>
</g>
<text class="tk" style="fill:#7c7c7c" transform="translate(112.89,77.58) scale(1.3,1.35)">−</text>
<text class="tk" x="164.82" y="65.22" letter-spacing="-3.0">25</text>
<text class="tk" style="fill:#7c7c7c" transform="translate(112.89,240.07) scale(1.3,1.35)">−</text>
<text class="tk" x="164.82" y="227.7" letter-spacing="-3.0">20</text>
<text class="tk" style="fill:#7c7c7c" transform="translate(112.89,402.55) scale(1.3,1.35)">−</text>
<text class="tk" x="164.82" y="390.19" letter-spacing="-3.0">15</text>
<text class="tk" style="fill:#7c7c7c" transform="translate(112.89,569.82) scale(1.3,1.35)">−</text>
<text class="tk" x="164.82" y="557.45" letter-spacing="-3.0">10</text>
<text class="tk" style="fill:#7c7c7c" transform="translate(146.96,732.3) scale(1.28,1.35)">−</text>
<text class="tk" x="193.32" y="719.94">5</text>
<text class="tk" x="193.32" y="882.42">0</text>
<text class="tk" x="193.32" y="1044.91">5</text>
<text class="tk" x="164.82" y="1207.4" letter-spacing="-3.0">10</text>
<text class="tk" x="164.82" y="1374.66" letter-spacing="-3.0">15</text>
<text class="tk" x="164.82" y="1537.15" letter-spacing="-3.0">20</text>
<text class="tk" x="164.82" y="1699.63" letter-spacing="-3.0">25</text>
<text class="tk" style="fill:#7c7c7c" transform="translate(284.93,1774.13) scale(1.29,1.35)">−</text>
<text class="tk" x="335.85" y="1761.76" letter-spacing="-3.0">20</text>
<text class="tk" style="fill:#7c7c7c" transform="translate(461.96,1774.13) scale(1.28,1.35)">−</text>
<text class="tk" x="512.88" y="1761.76" letter-spacing="-3.0">10</text>
<text class="tk" x="679.35" y="1761.76">0</text>
<text class="tk" x="844.88" y="1761.76" letter-spacing="-3.0">10</text>
<text class="tk" x="1020.75" y="1761.76" letter-spacing="-3.0">20</text>
<text class="pl" x="24.2 43.5 87" y="160.8">(a)</text>
<text class="lb" transform="translate(74.4,888.4) rotate(-90)">k</text>
<text class="lb" x="671.80" y="1867.5">m</text>
<g shape-rendering="crispEdges" fill="#262626">
<rect x="1425.7" y="51.5" width="897.6" height="4.75"/>
<rect x="1425.7" y="285.75" width="897.6" height="4.75"/>
<rect x="1425.7" y="56.25" width="4.75" height="229.5"/>
<rect x="2318.55" y="56.25" width="4.75" height="229.5"/>
</g>
<g shape-rendering="crispEdges" fill="#8c8c8c">
<rect x="1650.22" y="56.25" width="4.75" height="4.75"/>
<rect x="1650.22" y="281" width="4.75" height="4.75"/>
<rect x="1873.42" y="56.25" width="4.75" height="4.75"/>
<rect x="1873.42" y="281" width="4.75" height="4.75"/>
<rect x="2096.62" y="56.25" width="4.75" height="4.75"/>
<rect x="2096.62" y="281" width="4.75" height="4.75"/>
<rect x="1430.45" y="171.03" width="4.75" height="4.75"/>
<rect x="2313.8" y="171.03" width="4.75" height="4.75"/>
</g>
<clipPath id="cb"><rect x="1425.7" y="43.5" width="897.6" height="253.0"/></clipPath>
<g clip-path="url(#cb)">
<path d="M1651.4,290L1658.38,261.17L1665.35,231.78L1672.32,207.45L1679.3,193.68L1686.27,194.61L1693.25,212.14L1700.22,245.27L1707.2,290L1714.17,240.23L1721.15,193.53L1728.12,158.21L1735.1,141.32L1742.07,147.25L1749.05,176.77L1756.02,226.66L1763,290L1769.97,222.82L1776.95,162.59L1783.92,119.5L1790.9,101.38L1797.88,112.25L1804.85,151.5L1811.82,213.83L1818.8,290L1825.77,211.78L1832.75,143.9L1839.72,97.39L1846.7,79.98L1853.67,94.87L1860.65,140.05L1867.62,208.65L1874.6,290L1881.57,208.65L1888.55,140.05L1895.52,94.87L1902.5,79.98L1909.47,97.39L1916.45,143.9L1923.42,211.78L1930.4,290L1937.38,213.83L1944.35,151.5L1951.32,112.25L1958.3,101.38L1965.27,119.5L1972.25,162.59L1979.22,222.82L1986.2,290L1993.17,226.66L2000.15,176.77L2007.12,147.25L2014.1,141.32L2021.07,158.21L2028.05,193.53L2035.02,240.23L2042,290L2048.97,245.27L2055.95,212.14L2062.92,194.61L2069.9,193.68L2076.88,207.45L2083.85,231.78L2090.82,261.17L2097.8,290" fill="none" stroke="#0072BD" stroke-width="4.8" stroke-linejoin="round" stroke-opacity="1"/>
<path d="M1644.42,292.4L1651.4,231.08L1658.38,229.29L1665.35,238.63L1672.32,259.49L1679.3,290L1686.27,253.97L1693.25,218.26L1700.22,189.49L1707.2,173.87L1714.17,175.96L1721.15,197.59L1728.12,237.24L1735.1,290L1742.07,231.89L1749.05,177.85L1756.02,137.4L1763,118.48L1769.97,125.89L1776.95,160.26L1783.92,217.66L1790.9,290L1797.88,213.78L1804.85,145.95L1811.82,97.93L1818.8,78.33L1825.77,91.32L1832.75,135.85L1839.72,205.61L1846.7,290L1853.67,204.19L1860.65,130.62L1867.62,81.11L1874.6,63.67L1881.57,81.11L1888.55,130.62L1895.52,204.19L1902.5,290L1909.47,205.61L1916.45,135.85L1923.42,91.32L1930.4,78.33L1937.38,97.93L1944.35,145.95L1951.32,213.78L1958.3,290L1965.27,217.66L1972.25,160.26L1979.22,125.89L1986.2,118.48L1993.17,137.4L2000.15,177.85L2007.12,231.89L2014.1,290L2021.07,237.24L2028.05,197.59L2035.02,175.96L2042,173.87L2048.97,189.49L2055.95,218.26L2062.92,253.97L2069.9,290L2076.88,259.49L2083.85,238.63L2090.82,229.29L2097.8,231.08L2104.78,292.4" fill="none" stroke="#D95319" stroke-width="4.8" stroke-linejoin="round" stroke-opacity="1"/>
</g>
<g shape-rendering="crispEdges">
<rect x="1425.7" y="285.75" width="219.72" height="4.75" fill="#7f3a20"/>
<rect x="1425.7" y="290.5" width="219.72" height="4.6" fill="#eeaa8c"/>
<rect x="2103.78" y="285.75" width="219.53" height="4.75" fill="#7f3a20"/>
<rect x="2103.78" y="290.5" width="219.53" height="4.6" fill="#eeaa8c"/>
</g>
<text class="tk" x="1368.88" y="65.22">1</text>
<text class="tk" x="1320.37" y="184.69">0.5</text>
<text class="tk" x="1367.62" y="304.17">0</text>
<text class="tk" style="fill:#7c7c7c" transform="translate(1383.45,378.66) scale(1.29,1.35)">−</text>
<text class="tk" x="1434" y="366.29">4</text>
<text class="tk" style="fill:#7c7c7c" transform="translate(1608.18,378.66) scale(1.28,1.35)">−</text>
<text class="tk" x="1659.18" y="366.29">2</text>
<text class="tk" x="1858.85" y="366.29">0</text>
<text class="tk" x="2083.58" y="366.29">2</text>
<text class="tk" x="2308.05" y="366.29">4</text>
<text class="pl" x="1466 1488.2 1528.9" y="113.01">(b)</text>
<text class="lb" transform="translate(1282.5,262) rotate(-90)">[A.U.]</text>
<text class="lb" x="1792.3 1812 1831.2 1852.5 1899.7 1931.5" y="471.8 471.8 471.8 474 471.8 471.8">t [<tspan font-style="italic" font-size="67.5" font-family="DejaVu Serif,serif">μ</tspan>s]</text>
<g shape-rendering="crispEdges" fill="#262626">
<rect x="1210.8" y="529.4" width="1112.5" height="4.75"/>
<rect x="1210.8" y="696.85" width="1112.5" height="4.75"/>
<rect x="1210.8" y="534.15" width="4.75" height="162.7"/>
<rect x="2318.55" y="534.15" width="4.75" height="162.7"/>
</g>
<g shape-rendering="crispEdges"><rect x="1229.6" y="572.5" width="195.8" height="4.8" fill="#0072BD"/><rect x="1229.6" y="653.7" width="195.8" height="4.8" fill="#D95319"/></g>
<text class="lg" x="1433.8" y="600.6">Optimal Waveform, SNR = 2.6149</text>
<text class="lg" x="1434.8" y="677">DPSS, SNR = 2.589</text>
<g shape-rendering="crispEdges" fill="#262626">
<rect x="1425.7" y="1002.8" width="897.6" height="4.75"/>
<rect x="1425.7" y="1237.55" width="897.6" height="4.75"/>
<rect x="1425.7" y="1007.55" width="4.75" height="230"/>
<rect x="2318.55" y="1007.55" width="4.75" height="230"/>
</g>
<g shape-rendering="crispEdges" fill="#8c8c8c">
<rect x="1532.22" y="1007.55" width="4.75" height="4.75"/>
<rect x="1532.22" y="1232.8" width="4.75" height="4.75"/>
<rect x="1702.22" y="1007.55" width="4.75" height="4.75"/>
<rect x="1702.22" y="1232.8" width="4.75" height="4.75"/>
<rect x="1872.22" y="1007.55" width="4.75" height="4.75"/>
<rect x="1872.22" y="1232.8" width="4.75" height="4.75"/>
<rect x="2042.22" y="1007.55" width="4.75" height="4.75"/>
<rect x="2042.22" y="1232.8" width="4.75" height="4.75"/>
<rect x="2212.22" y="1007.55" width="4.75" height="4.75"/>
<rect x="2212.22" y="1232.8" width="4.75" height="4.75"/>
<rect x="1430.45" y="1065.12" width="4.75" height="4.75"/>
<rect x="2313.8" y="1065.12" width="4.75" height="4.75"/>
<rect x="1430.45" y="1151.22" width="4.75" height="4.75"/>
<rect x="2313.8" y="1151.22" width="4.75" height="4.75"/>
</g>
<clipPath id="cc"><rect x="1425.7" y="994.8" width="897.6" height="253.5"/></clipPath>
<g clip-path="url(#cc)">
<path d="M1428.35,1238.5L1433.66,1238.88L1438.97,1239.67L1444.29,1240.74L1449.6,1240.44L1454.91,1239.27L1460.22,1238.33L1465.54,1237.79L1470.85,1237.77L1476.16,1238.3L1481.47,1239.34L1486.79,1240.76L1492.1,1240.05L1497.41,1238.52L1502.72,1237.32L1508.04,1236.65L1513.35,1236.68L1518.66,1237.45L1523.97,1238.91L1529.29,1240.89L1534.6,1239.31L1539.91,1237.21L1545.22,1235.58L1550.54,1234.73L1555.85,1234.89L1561.16,1236.15L1566.47,1238.41L1571.79,1240.98L1577.1,1237.64L1582.41,1234.49L1587.72,1232.1L1593.04,1230.99L1598.35,1231.57L1603.66,1234.01L1608.97,1238.22L1614.29,1238.62L1619.6,1232.43L1624.91,1226.6L1630.22,1222.31L1635.54,1220.81L1640.85,1223.26L1646.16,1230.63L1651.47,1238.88L1656.79,1220.33L1662.1,1196.54L1667.41,1168.45L1672.72,1137.53L1678.04,1105.66L1683.35,1074.98L1688.66,1047.7L1693.97,1025.92L1699.29,1011.37L1704.6,1005.29L1709.91,1008.28L1715.22,1020.23L1720.54,1040.28L1725.85,1066.97L1731.16,1098.31L1736.47,1131.98L1741.79,1165.58L1747.1,1196.81L1752.41,1223.73L1757.72,1237.5L1763.04,1222.89L1768.35,1214.99L1773.66,1213.3L1778.97,1216.75L1784.29,1223.88L1789.6,1233.03L1794.91,1239.9L1800.22,1231.6L1805.54,1225.65L1810.85,1222.74L1816.16,1223.07L1821.47,1226.36L1826.79,1231.91L1832.1,1238.71L1837.41,1236.76L1842.72,1230.79L1848.04,1226.69L1853.35,1225.04L1858.66,1226.06L1863.97,1229.52L1869.29,1234.85L1874.6,1241.2L1879.91,1234.85L1885.22,1229.52L1890.54,1226.06L1895.85,1225.04L1901.16,1226.69L1906.47,1230.79L1911.79,1236.76L1917.1,1238.71L1922.41,1231.91L1927.72,1226.36L1933.04,1223.07L1938.35,1222.74L1943.66,1225.65L1948.97,1231.6L1954.29,1239.9L1959.6,1233.03L1964.91,1223.88L1970.22,1216.75L1975.54,1213.3L1980.85,1214.99L1986.16,1222.89L1991.47,1237.5L1996.79,1223.73L2002.1,1196.81L2007.41,1165.58L2012.72,1131.98L2018.04,1098.31L2023.35,1066.97L2028.66,1040.28L2033.97,1020.23L2039.29,1008.28L2044.6,1005.29L2049.91,1011.37L2055.22,1025.92L2060.54,1047.7L2065.85,1074.98L2071.16,1105.66L2076.47,1137.53L2081.79,1168.45L2087.1,1196.54L2092.41,1220.33L2097.72,1238.88L2103.04,1230.63L2108.35,1223.26L2113.66,1220.81L2118.97,1222.31L2124.29,1226.6L2129.6,1232.43L2134.91,1238.62L2140.22,1238.22L2145.54,1234.01L2150.85,1231.57L2156.16,1230.99L2161.47,1232.1L2166.79,1234.49L2172.1,1237.64L2177.41,1240.98L2182.72,1238.41L2188.04,1236.15L2193.35,1234.89L2198.66,1234.73L2203.97,1235.58L2209.29,1237.21L2214.6,1239.31L2219.91,1240.89L2225.22,1238.91L2230.54,1237.45L2235.85,1236.68L2241.16,1236.65L2246.47,1237.32L2251.79,1238.52L2257.1,1240.05L2262.41,1240.76L2267.72,1239.34L2273.04,1238.3L2278.35,1237.77L2283.66,1237.79L2288.97,1238.33L2294.29,1239.27L2299.6,1240.44L2304.91,1240.74L2310.22,1239.67L2315.54,1238.88L2320.85,1238.5" fill="none" stroke="#0072BD" stroke-width="4.8" stroke-linejoin="round" stroke-opacity="1"/>
<path d="M1428.35,1235.1L1433.66,1235.84L1438.97,1237.44L1444.29,1239.69L1449.6,1240.14L1454.91,1237.65L1460.22,1235.62L1465.54,1234.4L1470.85,1234.21L1476.16,1235.12L1481.47,1237.03L1486.79,1239.68L1492.1,1239.72L1497.41,1236.81L1502.72,1234.48L1508.04,1233.11L1513.35,1232.98L1518.66,1234.16L1523.97,1236.54L1529.29,1239.8L1534.6,1238.94L1539.91,1235.43L1545.22,1232.66L1550.54,1231.13L1555.85,1231.15L1561.16,1232.85L1566.47,1236.06L1571.79,1240.36L1577.1,1237.25L1582.41,1232.74L1587.72,1229.31L1593.04,1227.62L1598.35,1228.17L1603.66,1231.12L1608.97,1236.25L1614.29,1239.44L1619.6,1232.15L1624.91,1225.52L1630.22,1220.96L1635.54,1219.89L1640.85,1223.53L1646.16,1232.78L1651.47,1234.36L1656.79,1213.23L1662.1,1186.98L1667.41,1156.93L1672.72,1124.86L1678.04,1092.85L1683.35,1063.12L1688.66,1037.82L1693.97,1018.78L1699.29,1007.38L1704.6,1004.43L1709.91,1010.03L1715.22,1023.67L1720.54,1044.2L1725.85,1070L1731.16,1099.15L1736.47,1129.6L1741.79,1159.37L1747.1,1186.72L1752.41,1210.28L1757.72,1229.16L1763.04,1239.44L1768.35,1230.63L1773.66,1226.31L1778.97,1225.7L1784.29,1227.8L1789.6,1231.57L1794.91,1236.06L1800.22,1240.42L1805.54,1238.32L1810.85,1235.74L1816.16,1234.37L1821.47,1234.15L1826.79,1234.85L1832.1,1236.22L1837.41,1237.94L1842.72,1239.74L1848.04,1240.98L1853.35,1239.56L1858.66,1238.47L1863.97,1237.71L1869.29,1237.27L1874.6,1237.12L1879.91,1237.27L1885.22,1237.71L1890.54,1238.47L1895.85,1239.56L1901.16,1240.98L1906.47,1239.74L1911.79,1237.94L1917.1,1236.22L1922.41,1234.85L1927.72,1234.15L1933.04,1234.37L1938.35,1235.74L1943.66,1238.32L1948.97,1240.42L1954.29,1236.06L1959.6,1231.57L1964.91,1227.8L1970.22,1225.7L1975.54,1226.31L1980.85,1230.63L1986.16,1239.44L1991.47,1229.16L1996.79,1210.28L2002.1,1186.72L2007.41,1159.37L2012.72,1129.6L2018.04,1099.15L2023.35,1070L2028.66,1044.2L2033.97,1023.67L2039.29,1010.03L2044.6,1004.43L2049.91,1007.38L2055.22,1018.78L2060.54,1037.82L2065.85,1063.12L2071.16,1092.85L2076.47,1124.86L2081.79,1156.93L2087.1,1186.98L2092.41,1213.23L2097.72,1234.36L2103.04,1232.78L2108.35,1223.53L2113.66,1219.89L2118.97,1220.96L2124.29,1225.52L2129.6,1232.15L2134.91,1239.44L2140.22,1236.25L2145.54,1231.12L2150.85,1228.17L2156.16,1227.62L2161.47,1229.31L2166.79,1232.74L2172.1,1237.25L2177.41,1240.36L2182.72,1236.06L2188.04,1232.85L2193.35,1231.15L2198.66,1231.13L2203.97,1232.66L2209.29,1235.43L2214.6,1238.94L2219.91,1239.8L2225.22,1236.54L2230.54,1234.16L2235.85,1232.98L2241.16,1233.11L2246.47,1234.48L2251.79,1236.81L2257.1,1239.72L2262.41,1239.68L2267.72,1237.03L2273.04,1235.12L2278.35,1234.21L2283.66,1234.4L2288.97,1235.62L2294.29,1237.65L2299.6,1240.14L2304.91,1239.69L2310.22,1237.44L2315.54,1235.84L2320.85,1235.1" fill="none" stroke="#D95319" stroke-width="4.8" stroke-linejoin="round" stroke-opacity="1"/>
</g>
<text class="tk" x="1368.88" y="1078.36">1</text>
<text class="tk" x="1320.37" y="1169.17">0.5</text>
<text class="tk" x="1367.62" y="1255.19">0</text>
<text class="tk" style="fill:#7c7c7c" transform="translate(1493.24,1329.68) scale(1.29,1.35)">−</text>
<text class="tk" x="1544.63" y="1317.31">2</text>
<text class="tk" style="fill:#7c7c7c" transform="translate(1660.2,1329.68) scale(1.3,1.35)">−</text>
<text class="tk" x="1712.26" y="1317.31">1</text>
<text class="tk" x="1858.95" y="1317.31">0</text>
<text class="tk" x="2032.25" y="1317.31">1</text>
<text class="tk" x="2198.28" y="1317.31">2</text>
<text class="pl" x="1466 1488.2 1524.5" y="1064.03">(c)</text>
<text class="lb" transform="translate(1282.5,1213) rotate(-90)">[A.U.]</text>
<text class="lb" x="1766.2 1786 1802.7 1822.9 1879.5 1931 1964.4" y="1423.1">f [MHz]</text>
<g shape-rendering="crispEdges" fill="#262626">
<rect x="1210.8" y="1480.4" width="1112.5" height="4.75"/>
<rect x="1210.8" y="1647.85" width="1112.5" height="4.75"/>
<rect x="1210.8" y="1485.15" width="4.75" height="162.7"/>
<rect x="2318.55" y="1485.15" width="4.75" height="162.7"/>
</g>
<g shape-rendering="crispEdges"><rect x="1229.6" y="1523.5" width="195.8" height="4.8" fill="#0072BD"/><rect x="1229.6" y="1604.7" width="195.8" height="4.8" fill="#D95319"/></g>
<text class="lg" x="1433.8" y="1551.6">Optimal Waveform, SNR = 2.6149</text>
<text class="lg" x="1434.8" y="1628">DPSS, SNR = 2.589</text>
</svg></body></html>
